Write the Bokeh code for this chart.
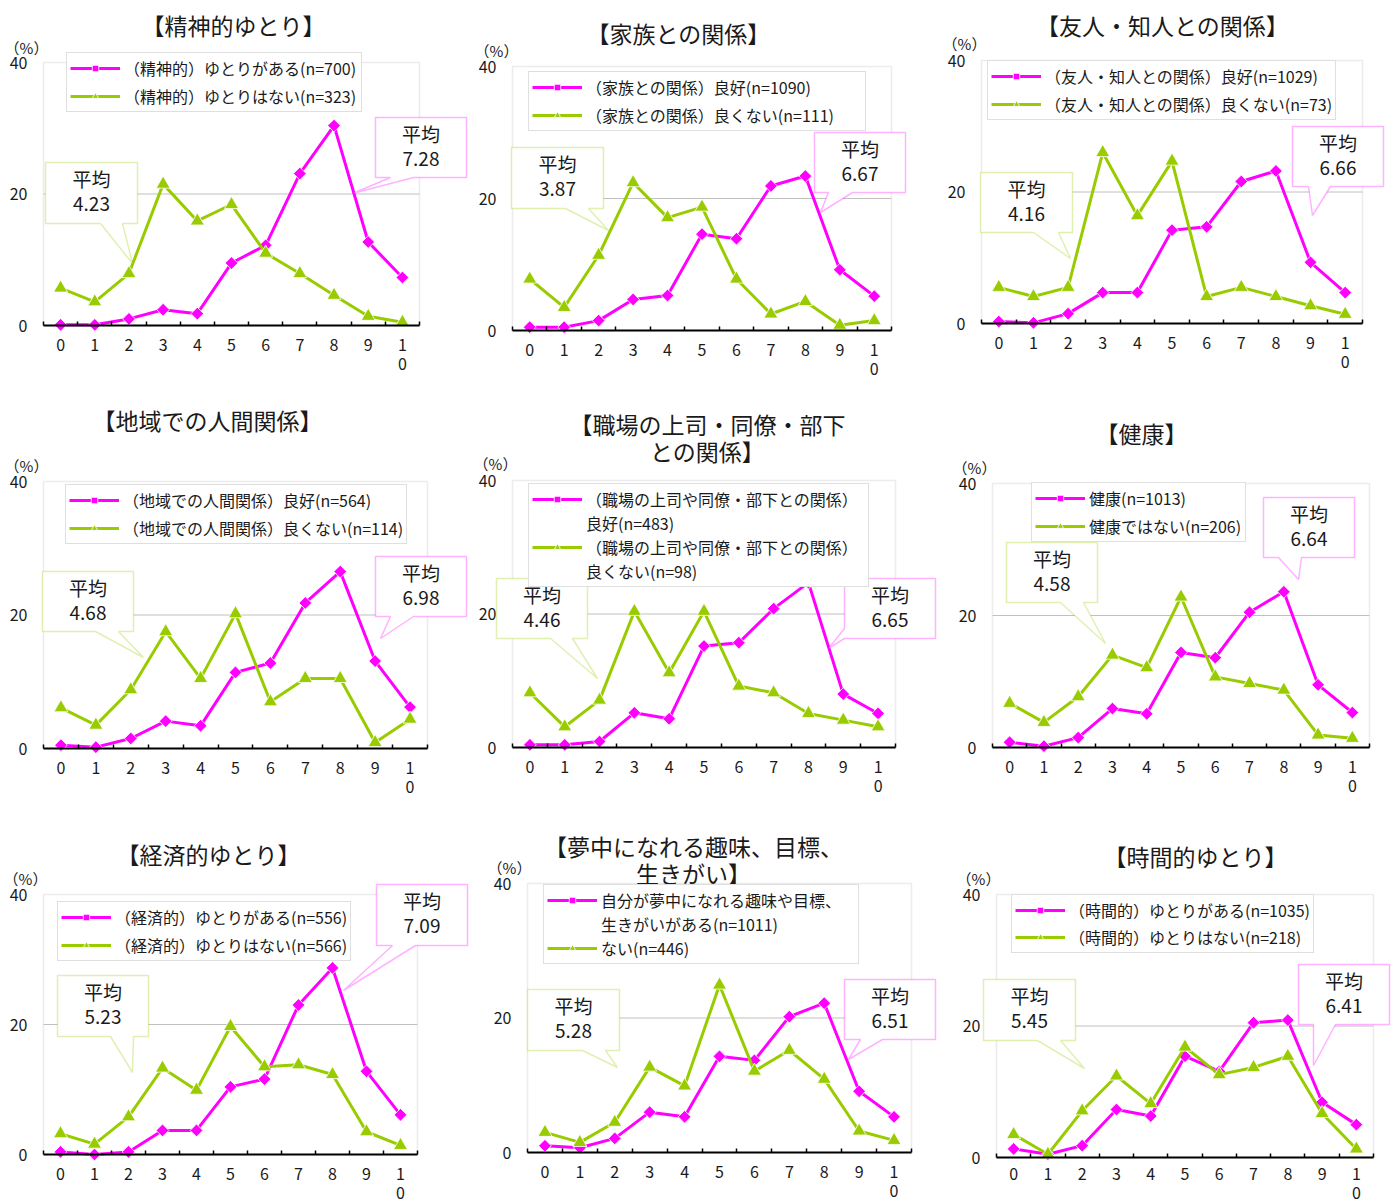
import math

from bokeh.embed import file_html
from bokeh.layouts import column, row
from bokeh.models import (BoxAnnotation, FixedTicker, Label, Legend, LegendItem,
                          LinearAxis, PolyAnnotation, Range1d)
from bokeh.plotting import figure
from bokeh.resources import INLINE

# ---------------------------------------------------------------- data
scores = list(range(11))
score_labels = ["0", "1", "2", "3", "4", "5", "6", "7", "8", "9", "1\n0"]
y_ticks = [0, 20, 40]
grid_values = [20]

titles = [
    ["【精神的ゆとり】"],
    ["【家族との関係】"],
    ["【友人・知人との関係】"],
    ["【地域での人間関係】"],
    ["【職場の上司・同僚・部下", "との関係】"],
    ["【健康】"],
    ["【経済的ゆとり】"],
    ["【夢中になれる趣味、目標、", "生きがい】"],
    ["【時間的ゆとり】"],
]

good_labels = [
    ["（精神的）ゆとりがある(n=700)"],
    ["（家族との関係）良好(n=1090)"],
    ["（友人・知人との関係）良好(n=1029)"],
    ["（地域での人間関係）良好(n=564)"],
    ["（職場の上司や同僚・部下との関係）", "良好(n=483)"],
    ["健康(n=1013)"],
    ["（経済的）ゆとりがある(n=556)"],
    ["自分が夢中になれる趣味や目標、", "生きがいがある(n=1011)"],
    ["（時間的）ゆとりがある(n=1035)"],
]
bad_labels = [
    ["（精神的）ゆとりはない(n=323)"],
    ["（家族との関係）良くない(n=111)"],
    ["（友人・知人との関係）良くない(n=73)"],
    ["（地域での人間関係）良くない(n=114)"],
    ["（職場の上司や同僚・部下との関係）", "良くない(n=98)"],
    ["健康ではない(n=206)"],
    ["（経済的）ゆとりはない(n=566)"],
    ["ない(n=446)"],
    ["（時間的）ゆとりはない(n=218)"],
]

# share of respondents (%) by happiness score 0..10
good_pct = [
    [0.1, 0.1, 1.0, 2.4, 1.8, 9.5, 12.2, 23.1, 30.4, 12.7, 7.3],
    [0.5, 0.5, 1.5, 4.7, 5.3, 14.6, 13.9, 21.9, 23.4, 9.2, 5.2],
    [0.3, 0.1, 1.5, 4.7, 4.7, 14.2, 14.7, 21.6, 23.2, 9.3, 4.7],
    [0.5, 0.2, 1.5, 4.1, 3.4, 11.4, 12.8, 21.8, 26.5, 13.1, 6.2],
    [0.4, 0.4, 0.9, 5.2, 4.3, 15.2, 15.7, 20.8, 24.7, 8.0, 5.1],
    [0.8, 0.2, 1.5, 5.9, 5.1, 14.4, 13.6, 20.5, 23.6, 9.5, 5.3],
    [0.4, 0.0, 0.4, 3.7, 3.7, 10.4, 11.6, 23.0, 28.7, 12.8, 6.1],
    [1.0, 0.7, 2.1, 6.0, 5.3, 14.3, 13.7, 20.2, 22.2, 9.1, 5.3],
    [1.3, 0.5, 1.8, 7.3, 6.3, 15.4, 13.1, 20.5, 20.9, 8.4, 5.0],
]
bad_pct = [
    [5.7, 3.6, 7.9, 21.5, 15.9, 18.4, 11.0, 7.9, 4.6, 1.4, 0.5],
    [7.8, 3.5, 11.4, 22.4, 17.1, 18.7, 7.8, 2.5, 4.4, 0.8, 1.5],
    [5.5, 4.1, 5.5, 26.0, 16.4, 24.7, 4.1, 5.5, 4.1, 2.7, 1.4],
    [6.1, 3.5, 8.8, 17.5, 10.5, 20.2, 7.0, 10.5, 10.5, 0.9, 4.4],
    [8.2, 3.1, 7.1, 20.4, 11.2, 20.4, 9.2, 8.2, 5.1, 4.1, 3.1],
    [6.7, 3.8, 7.7, 14.0, 12.1, 22.8, 10.7, 9.7, 8.7, 1.9, 1.4],
    [3.2, 1.6, 5.8, 13.3, 9.9, 19.7, 13.5, 13.8, 12.3, 3.5, 1.4],
    [3.0, 1.5, 4.5, 12.7, 9.9, 24.9, 12.1, 15.2, 10.9, 3.2, 1.8],
    [3.5, 0.5, 7.1, 12.4, 8.2, 16.8, 12.6, 13.7, 15.4, 6.7, 1.3],
]

good_mean = [7.28, 6.67, 6.66, 6.98, 6.65, 6.64, 7.09, 6.51, 6.41]
bad_mean = [4.23, 3.87, 4.16, 4.68, 4.46, 4.58, 5.23, 5.28, 5.45]

# ---------------------------------------------------------------- style
FONT = "Noto Sans CJK JP"
TEXT = "#1a1a1a"
MAGENTA = "#FF00FF"
GREEN = "#99CC00"
BORDER = "#c0c0c0"

# ---------------------------------------------------------------- page layout (px)
# cell = canvas of each panel; frame = plot area (left, top=40%, right, bottom=0%)
cells = [
    (0, 0, 470, 395), (470, 0, 935, 395), (935, 0, 1395, 395),
    (0, 395, 475, 815), (475, 395, 940, 815), (940, 395, 1395, 815),
    (0, 815, 475, 1204), (475, 815, 945, 1204), (945, 815, 1395, 1204),
]
frames = [
    (43, 62, 419, 325), (512, 66, 891, 330), (981, 60, 1362, 323),
    (43, 481, 427, 748), (512, 480, 895, 747), (992, 483, 1369, 747),
    (43, 894, 417, 1154), (527, 883, 911, 1152), (996, 894, 1373, 1157),
]
title_pos = [(233, 24), (678, 32), (1162, 24), (207, 419), (707, 423), (1141, 432),
             (208, 853), (693, 845), (1195, 855)]
percent_pos = [(26, 47), (496, 50), (964, 43), (26, 465), (495, 463), (974, 467),
               (25, 878), (509, 867), (978, 878)]
legend_box = [
    (66, 56, 360, 112), (528, 75, 864, 131), (987, 64, 1318, 120),
    (65, 488, 398, 544), (528, 489, 867, 580), (1031, 486, 1244, 542),
    (57, 905, 348, 961), (543, 889, 857, 958), (1011, 898, 1302, 953),
]
# callouts: box (l, t, r, b), edge carrying the pointer, pointer base (a, b), tip (x, y)
bad_callout = [
    ((45, 162, 137, 223), "bottom", (100, 122), (132, 263)),
    ((511, 147, 603, 208), "bottom", (565, 588), (608, 230)),
    ((980, 172, 1072, 232), "bottom", (1033, 1058), (1070, 258)),
    ((42, 571, 133, 631), "bottom", (95, 118), (143, 657)),
    ((496, 578, 587, 638), "bottom", (550, 572), (597, 678)),
    ((1006, 542, 1097, 602), "bottom", (1060, 1083), (1105, 643)),
    ((57, 975, 148, 1036), "bottom", (110, 133), (132, 1072)),
    ((527, 989, 619, 1050), "bottom", (582, 605), (617, 1067)),
    ((983, 979, 1075, 1040), "bottom", (1037, 1060), (1084, 1068)),
]
good_callout = [
    ((375, 117, 466, 177), "bottom", (390, 413), (352, 193)),
    ((814, 132, 905, 192), "bottom", (828, 852), (820, 212)),
    ((1292, 126, 1383, 186), "bottom", (1308, 1330), (1312, 215)),
    ((375, 556, 466, 616), "bottom", (390, 413), (380, 638)),
    ((844, 578, 935, 638), "left", (628, 638), (828, 648)),
    ((1263, 497, 1354, 557), "bottom", (1278, 1301), (1298, 579)),
    ((376, 884, 467, 945), "bottom", (392, 415), (343, 990)),
    ((844, 979, 935, 1039), "bottom", (860, 882), (848, 1059)),
    ((1298, 964, 1389, 1024), "bottom", (1313, 1335), (1313, 1065)),
]

LEG_FONT_PX = 16
LEG_ROW = 23      # legend row height for a 16px label
LEG_PAD = 3
GLYPH_W = 50
STANDOFF = 4
X_LABEL_BLOCK = 44  # px taken by the two-line "10" tick label below its standoff


def make_panel(i):
    cx0, cy0, cx1, cy1 = cells[i]
    L, T, R, B = frames[i]
    w, h = R - L, B - T

    # page px -> data coordinates of this panel
    def dx(px):
        return -0.5 + (px - L) / w * 11

    def dy(py):
        return 40 * (B - py) / h

    # the frame fills the whole cell; the plot area is drawn inside it
    p = figure(
        width=cx1 - cx0, height=cy1 - cy0,
        x_range=Range1d(dx(cx0), dx(cx1)), y_range=Range1d(dy(cy1), dy(cy0)),
        x_axis_type=None, y_axis_type=None,
        toolbar_location=None, output_backend="svg",
        min_border=0, outline_line_color=None,
        background_fill_color="white", border_fill_color="white",
    )

    bounds = [s - 0.5 for s in scores] + [scores[-1] + 0.5]

    # plot area border and gridline
    p.add_layout(BoxAnnotation(left=bounds[0], right=bounds[-1], bottom=y_ticks[0],
                               top=y_ticks[-1], fill_alpha=0, line_color=BORDER,
                               line_width=1.5, level="underlay"))
    p.segment(x0=[bounds[0]] * len(grid_values), y0=grid_values,
              x1=[bounds[-1]] * len(grid_values), y1=grid_values,
              line_color=BORDER, line_width=1)

    xaxis = LinearAxis(
        fixed_location=0, bounds=(bounds[0], bounds[-1]),
        ticker=FixedTicker(ticks=scores, minor_ticks=bounds),
        major_label_overrides={s: t for s, t in zip(scores, score_labels)},
        axis_line_color="black", axis_line_width=2,
        major_tick_line_color=None, major_tick_in=0, major_tick_out=0,
        minor_tick_line_color="black", minor_tick_line_width=1.5,
        minor_tick_in=4, minor_tick_out=0,
        major_label_standoff=max(2, min(6, (cy1 - B) - X_LABEL_BLOCK)),
        major_label_text_font=FONT, major_label_text_font_size="16px",
        major_label_text_color=TEXT, major_label_text_line_height=0.82,
    )
    p.add_layout(xaxis, "below")
    yaxis = LinearAxis(
        fixed_location=bounds[0], bounds=(y_ticks[0], y_ticks[-1]),
        ticker=FixedTicker(ticks=y_ticks),
        axis_line_color=None, major_tick_line_color=None, minor_tick_line_color=None,
        major_tick_in=0, major_tick_out=0, major_label_standoff=16,
        major_label_text_font=FONT, major_label_text_font_size="16px",
        major_label_text_color=TEXT,
    )
    p.add_layout(yaxis, "left")

    # series
    g_line = p.line(scores, good_pct[i], line_color=MAGENTA, line_width=3)
    g_mark = p.scatter(scores, good_pct[i], marker="square", angle=math.pi / 4, size=9,
                       fill_color=MAGENTA, line_color="white", line_width=0.8)
    b_line = p.line(scores, bad_pct[i], line_color=GREEN, line_width=3)
    b_mark = p.scatter(scores, bad_pct[i], marker="triangle", size=14,
                       fill_color=GREEN, line_color="white", line_width=0.8)
    blank = p.line(x=[], y=[], line_alpha=0)

    # legend (continuation lines of long labels get an empty glyph slot)
    items = []
    for lines, rends in ((good_labels[i], [g_line, g_mark]), (bad_labels[i], [b_line, b_mark])):
        for k, txt in enumerate(lines):
            items.append(LegendItem(label=txt, renderers=rends if k == 0 else [blank]))
    n = len(items)
    ll, lt, lr, lb = legend_box[i]
    spacing = max(0, int(round(((lb - lt) - 2 * LEG_PAD - n * LEG_ROW) / max(n - 1, 1))))
    leg_h = 2 * LEG_PAD + n * LEG_ROW + (n - 1) * spacing
    legend = Legend(
        items=items, location=(ll - cx0, cy1 - (lt + leg_h)),
        orientation="vertical", padding=LEG_PAD, spacing=spacing,
        label_height=LEG_ROW, glyph_height=16, glyph_width=GLYPH_W,
        label_standoff=STANDOFF,
        label_width=int((lr - ll) - 2 * LEG_PAD - GLYPH_W - STANDOFF),
        label_text_font=FONT, label_text_font_size=f"{LEG_FONT_PX}px",
        label_text_color=TEXT, label_text_baseline="middle",
        border_line_color=BORDER, border_line_width=1.5,
        background_fill_color="white", background_fill_alpha=1.0, margin=0,
    )
    p.add_layout(legend)

    # mean callouts
    for (box, edge, base, tip), color, mean in ((bad_callout[i], GREEN, bad_mean[i]),
                                                (good_callout[i], MAGENTA, good_mean[i])):
        l, t, r, b = box
        if edge == "bottom":
            pts = [(l, t), (r, t), (r, b), (base[1], b), tip, (base[0], b), (l, b)]
        else:
            pts = [(l, t), (r, t), (r, b), (l, b), (l, base[1]), tip, (l, base[0])]
        p.add_layout(PolyAnnotation(xs=[dx(x) for x, _ in pts], ys=[dy(y) for _, y in pts],
                                    fill_color="white", fill_alpha=1.0,
                                    line_color=color, line_width=1.5))
        cx = (l + r) / 2
        for txt, off in (("平均", 16), (f"{mean:.2f}", 41.5)):
            p.add_layout(Label(x=dx(cx), y=dy(t + off), text=txt, text_align="center",
                               text_baseline="middle", text_font=FONT,
                               text_font_size="19px", text_color=TEXT))

    # title and unit
    tx, ty = title_pos[i]
    for k, line in enumerate(titles[i]):
        p.add_layout(Label(x=dx(tx), y=dy(ty + k * 27.5), text=line, text_align="center",
                           text_baseline="middle", text_font=FONT,
                           text_font_size="23px", text_color=TEXT))
    px_, py_ = percent_pos[i]
    p.add_layout(Label(x=dx(px_), y=dy(py_), text="（%）", text_align="center",
                       text_baseline="middle", text_font=FONT, text_font_size="15px",
                       text_color=TEXT))
    return p


panels = [make_panel(i) for i in range(9)]
layout = column(row(*panels[0:3]), row(*panels[3:6]), row(*panels[6:9]))

with open("out.html", "w") as f:
    f.write(file_html(layout, INLINE))
